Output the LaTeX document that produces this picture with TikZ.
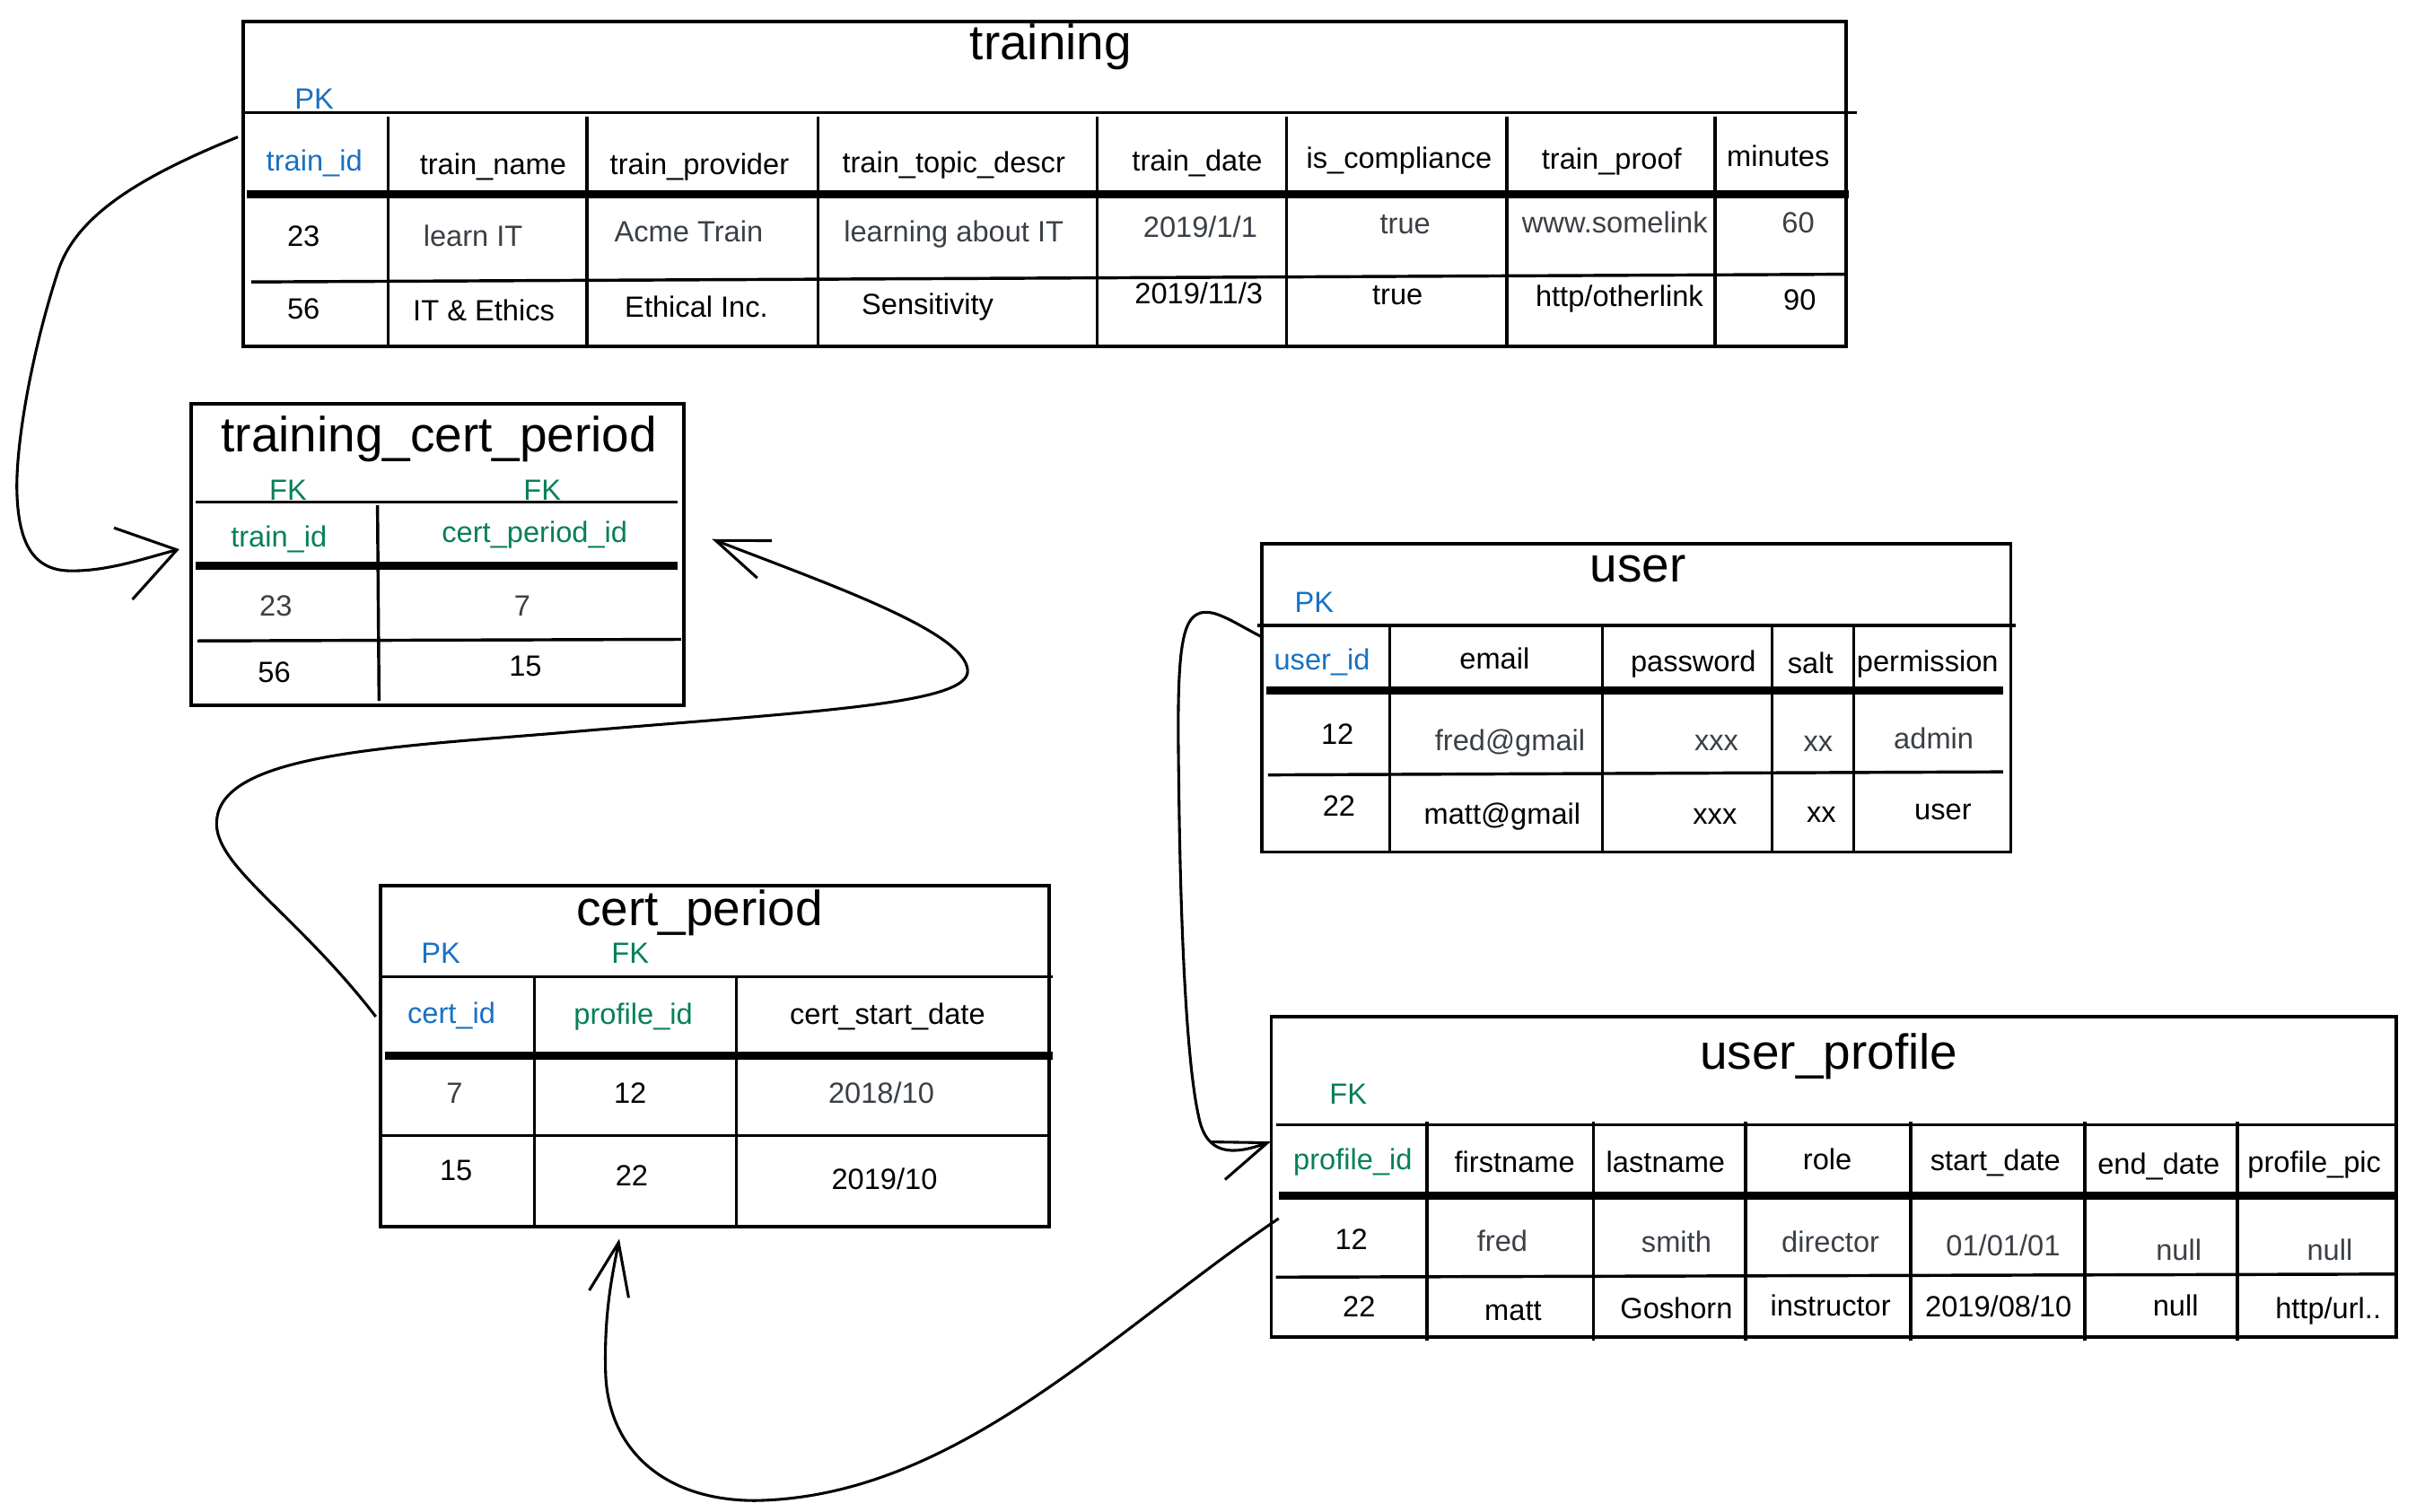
\documentclass[tikz,border=0pt]{standalone}
\usepackage{fontspec}
\setmainfont{Liberation Sans}
\usetikzlibrary{arrows.meta,calc,fit}
\definecolor{pkblue}{HTML}{1971C2}
\definecolor{fkgreen}{HTML}{087F5B}
\definecolor{cellgray}{HTML}{3B4046}
\begin{document}
\begin{tikzpicture}[x=0.5pt,y=-0.5pt,
  tbl/.style={draw, line width=1.1pt, inner sep=0pt},
  gridline/.style={line width=1pt},
  hsep/.style={line width=2.6pt},
  ttl/.style={font=\fontsize{16}{18}\selectfont, anchor=base, inner sep=0pt},
  cell/.style={font=\fontsize{9.5}{11}\selectfont, inner sep=0pt, text height=7pt, text depth=2pt},
  cg/.style={cell, text=cellgray},
  ck/.style={cell, text=black},
  hb/.style={cell, text=pkblue},
  hg/.style={cell, text=fkgreen},
  keylbl/.style={font=\fontsize{9.5}{11}\selectfont, inner sep=0pt},
  pk/.style={keylbl, text=pkblue},
  fk/.style={keylbl, text=fkgreen},
  conn/.style={line width=0.9pt, -{Straight Barb[length=17pt,width=13pt]}}
]
\useasboundingbox (0,0) rectangle (1568,981);
\fill[white] (0,0) rectangle (1568,981);

% ---------------- training ----------------
\node[tbl, fit={(158,14) (1198,225)}] (training) {};
\draw[gridline] (158,73) -- (1205,73);
\foreach \x in {252,381,531,712,835,978,1113} \draw[gridline] (\x,76) -- (\x,225);
\draw[hsep] (160,126) -- (1200,126);
\draw[gridline] (163,183) -- (1198,178);
\node[ttl] (tr-title) at (682,39) {training};
\node[pk] (tr-pk) at (204,64) {PK};
\node[hb] (tr-h1) at (204,106) {train\_id};
\node[ck] (tr-h2) at (320,108) {train\_name};
\node[ck] (tr-h3) at (454,108) {train\_provider};
\node[ck] (tr-h4) at (619,107) {train\_topic\_descr};
\node[ck] (tr-h5) at (777,106) {train\_date};
\node[ck] (tr-h6) at (908,104) {is\_compliance};
\node[ck] (tr-h7) at (1046,105) {train\_proof};
\node[ck] (tr-h8) at (1154,103) {minutes};
\node[ck] (tr-a1) at (197,155) {23};
\node[cg] (tr-a2) at (307,155) {learn IT};
\node[cg] (tr-a3) at (447,152) {Acme Train};
\node[cg] (tr-a4) at (619,152) {learning about IT};
\node[cg] (tr-a5) at (779,149) {2019/1/1};
\node[cg] (tr-a6) at (912,147) {true};
\node[cg] (tr-a7) at (1048,146) {www.somelink};
\node[cg] (tr-a8) at (1167,146) {60};
\node[ck] (tr-b1) at (197,202) {56};
\node[ck] (tr-b2) at (314,203) {IT \& Ethics};
\node[ck] (tr-b3) at (452,201) {Ethical Inc.};
\node[ck] (tr-b4) at (602,199) {Sensitivity};
\node[ck] (tr-b5) at (778,192) {2019/11/3};
\node[ck] (tr-b6) at (907,193) {true};
\node[ck] (tr-b7) at (1051,194) {http/otherlink};
\node[ck] (tr-b8) at (1168,196) {90};

% ---------------- training_cert_period ----------------
\node[tbl, fit={(124,262) (444,458)}] (tcp) {};
\draw[gridline] (127,326) -- (440,326);
\draw[gridline] (245,328) -- (246,455);
\draw[hsep] (127,367) -- (440,367);
\draw[gridline] (128,416) -- (442,415);
\node[ttl] (tcp-title) at (285,293) {training\_cert\_period};
\node[fk] (tcp-fk1) at (187,318) {FK};
\node[fk] (tcp-fk2) at (352,318) {FK};
\node[hg] (tcp-h1) at (181,350) {train\_id};
\node[hg] (tcp-h2) at (347,347) {cert\_period\_id};
\node[cg] (tcp-a1) at (179,395) {23};
\node[cg] (tcp-a2) at (339,395) {7};
\node[ck] (tcp-b1) at (178,438) {56};
\node[ck] (tcp-b2) at (341,434) {15};

% ---------------- user ----------------
\node[tbl, fit={(819,353) (1305,553)}] (user) {};
\draw[gridline] (816,406) -- (1308,406);
\foreach \x in {902,1040,1150,1203} \draw[gridline] (\x,406) -- (\x,553);
\draw[hsep] (822,448) -- (1300,448);
\draw[gridline] (823,503) -- (1300,501);
\node[ttl] (us-title) at (1063,378) {user};
\node[pk] (us-pk) at (853,391) {PK};
\node[hb] (us-h1) at (858,430) {user\_id};
\node[ck] (us-h2) at (970,429) {email};
\node[ck] (us-h3) at (1099,431) {password};
\node[ck] (us-h4) at (1175,432) {salt};
\node[ck] (us-h5) at (1251,431) {permission};
\node[ck] (us-a1) at (868,478) {12};
\node[cg] (us-a2) at (980,482) {fred@gmail};
\node[cg] (us-a3) at (1114,482) {xxx};
\node[cg] (us-a4) at (1180,483) {xx};
\node[cg] (us-a5) at (1255,481) {admin};
\node[ck] (us-b1) at (869,525) {22};
\node[ck] (us-b2) at (975,530) {matt@gmail};
\node[ck] (us-b3) at (1113,530) {xxx};
\node[ck] (us-b4) at (1182,529) {xx};
\node[ck] (us-b5) at (1261,527) {user};

% ---------------- cert_period ----------------
\node[tbl, fit={(247,575) (681,796)}] (certp) {};
\draw[gridline] (247,634) -- (683,634);
\foreach \x in {347,478} \draw[gridline] (\x,634) -- (\x,796);
\draw[hsep] (250,685) -- (683,685);
\draw[gridline] (248,737) -- (681,737);
\node[ttl] (cp-title) at (454,601) {cert\_period};
\node[pk] (cp-pk) at (286,619) {PK};
\node[fk] (cp-fk) at (409,619) {FK};
\node[hb] (cp-h1) at (293,659) {cert\_id};
\node[hg] (cp-h2) at (411,660) {profile\_id};
\node[ck] (cp-h3) at (576,660) {cert\_start\_date};
\node[cg] (cp-a1) at (295,711) {7};
\node[ck] (cp-a2) at (409,711) {12};
\node[cg] (cp-a3) at (572,711) {2018/10};
\node[ck] (cp-b1) at (296,761) {15};
\node[ck] (cp-b2) at (410,765) {22};
\node[ck] (cp-b3) at (574,767) {2019/10};

% ---------------- user_profile ----------------
\node[tbl, fit={(825,660) (1555,868)}] (uprof) {};
\draw[gridline] (828,730) -- (1555,730);
\foreach \x in {926,1034,1133,1240,1353,1452} \draw[gridline] (\x,728) -- (\x,870);
\draw[hsep] (830,776) -- (1555,776);
\draw[gridline] (828,829) -- (1555,827);
\node[ttl] (up-title) at (1187,694) {user\_profile};
\node[fk] (up-fk) at (875,710) {FK};
\node[hg] (up-h1) at (878,754) {profile\_id};
\node[ck] (up-h2) at (983,756) {firstname};
\node[ck] (up-h3) at (1081,756) {lastname};
\node[ck] (up-h4) at (1186,754) {role};
\node[ck] (up-h5) at (1295,755) {start\_date};
\node[ck] (up-h6) at (1401,757) {end\_date};
\node[ck] (up-h7) at (1502,756) {profile\_pic};
\node[ck] (up-a1) at (877,806) {12};
\node[cg] (up-a2) at (975,807) {fred};
\node[cg] (up-a3) at (1088,808) {smith};
\node[cg] (up-a4) at (1188,808) {director};
\node[cg] (up-a5) at (1300,810) {01/01/01};
\node[cg] (up-a6) at (1414,813) {null};
\node[cg] (up-a7) at (1512,813) {null};
\node[ck] (up-b1) at (882,850) {22};
\node[ck] (up-b2) at (982,852) {matt};
\node[ck] (up-b3) at (1088,851) {Goshorn};
\node[ck] (up-b4) at (1188,849) {instructor};
\node[ck] (up-b5) at (1297,850) {2019/08/10};
\node[ck] (up-b6) at (1412,849) {null};
\node[ck] (up-b7) at (1511,851) {http/url..};

% ---------------- connectors ----------------
\coordinate (c1s) at ($(training.north west)+(-2.5,76)$);
\coordinate (c1e) at ($(tcp.west)+(-6.5,-3.5)$);
\draw[conn, -{Straight Barb[length=18pt,width=24pt]}] (c1s)
  .. controls (90,115) and (50,140) .. (38,175)
  .. controls (20,230) and (10,290) .. (11,320)
  .. controls (12,350) and (20,370) .. (45,370.5)
  .. controls (70,371) and (95,362) .. (c1e);

\coordinate (c2s) at ($(certp.north west)+(-2,86)$);
\coordinate (c2e) at ($(tcp.north east)+(17,89)$);
\draw[conn] (c2s)
  .. controls (190,590) and (135,560) .. (141,530)
  .. controls (148,490) and (250,485) .. (360,476)
  .. controls (520,462) and (630,458) .. (628,435)
  .. controls (626,410) and (540,380) .. (c2e);

\coordinate (c3s) at ($(user.north west)+(2,62)$);
\coordinate (c3e) at ($(uprof.north west)+(1,82)$);
\draw[conn] (c3s)
  .. controls (800,404) and (785,392) .. (775,400)
  .. controls (765,408) and (764,440) .. (765,505)
  .. controls (766,600) and (770,690) .. (778,725)
  .. controls (783,750) and (800,750) .. (c3e);

\coordinate (c4s) at ($(uprof.north west)+(6,132)$);
\coordinate (c4e) at ($(certp.south west)+(156,7)$);
\draw[conn] (c4s)
  .. controls (720,865) and (620,972) .. (490,974)
  .. controls (430,974) and (394,940) .. (393,890)
  .. controls (392,850) and (398,825) .. (c4e);
\end{tikzpicture}
\end{document}
